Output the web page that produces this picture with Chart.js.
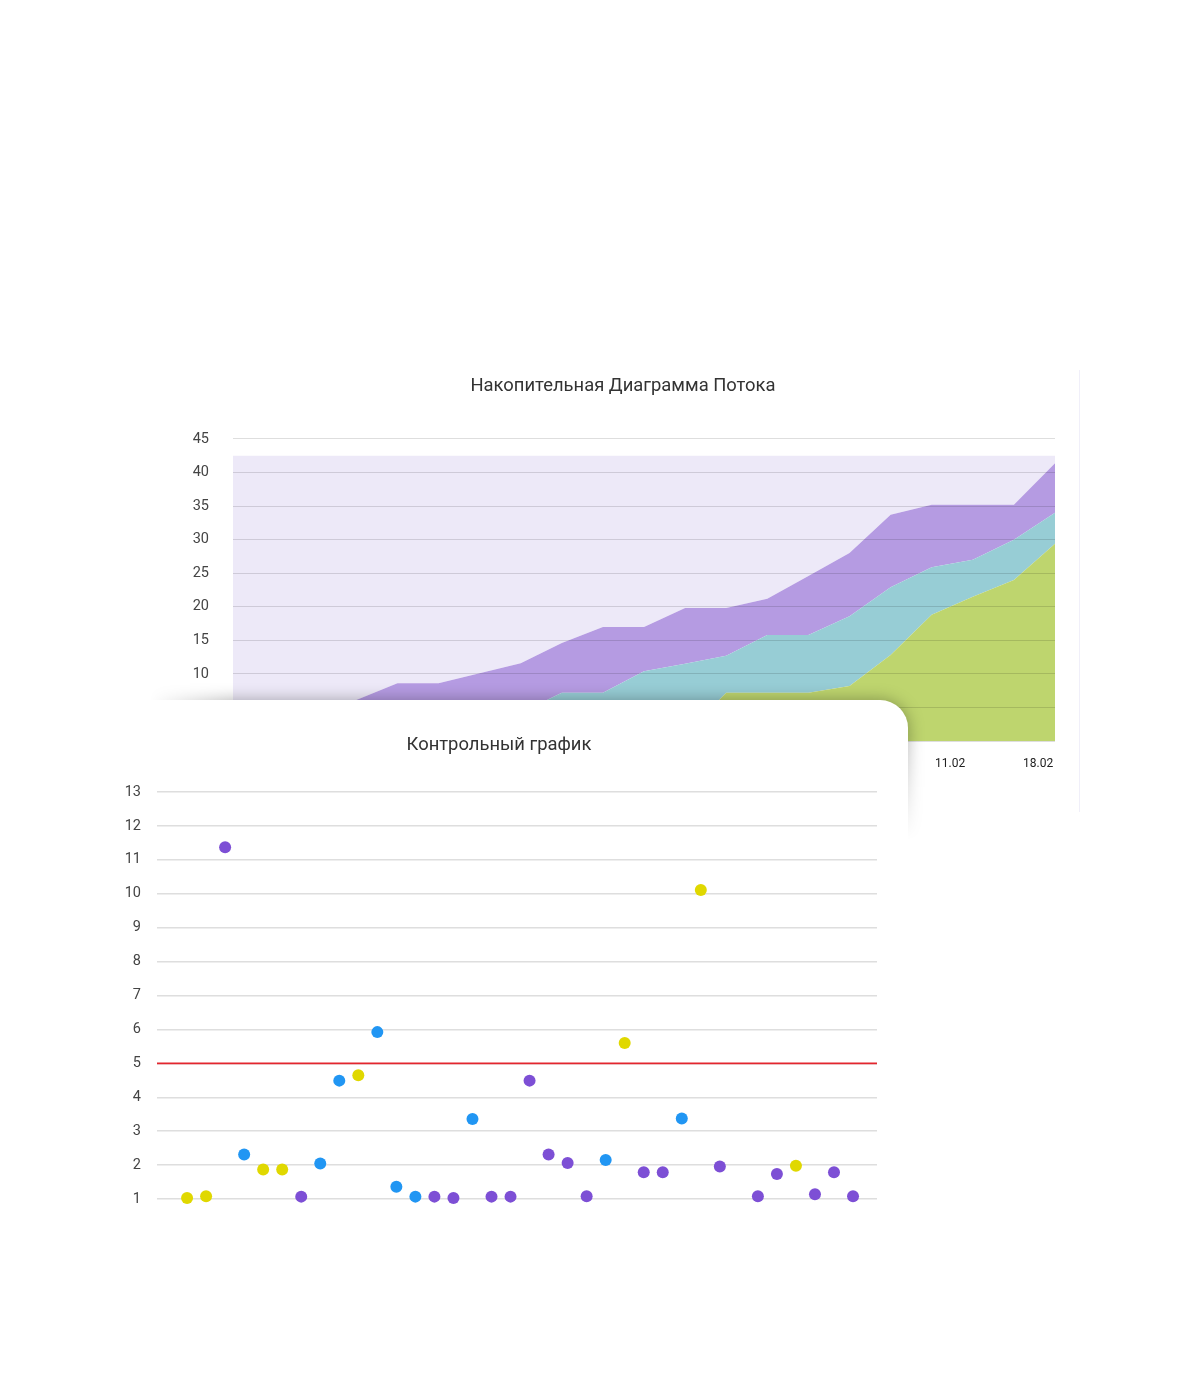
<!DOCTYPE html>
<html lang="ru">
<head>
<meta charset="utf-8">
<title>Накопительная Диаграмма Потока / Контрольный график</title>
<script src="https://cdn.jsdelivr.net/npm/chart.js@4.4.1/dist/chart.umd.min.js"></script>
<style>
  html, body {
    margin: 0;
    padding: 0;
    background: #fff;
  }
  body {
    position: relative;
    width: 1184px;
    height: 1400px;
    overflow: hidden;
    font-family: Roboto, "Noto Sans", sans-serif;
  }
  #flowCard {
    position: absolute;
    left: 167px;
    top: 370px;
    width: 912px;
    height: 442px;
  }
  #flowEdge {
    position: absolute;
    left: 1079px;
    top: 370px;
    width: 1px;
    height: 442px;
    background: #f0eff9;
  }
  /* мягкая тень под карточкой контрольного графика */
  #shadowWrap {
    position: absolute;
    left: 60px;
    top: 640px;
    width: 920px;
    height: 320px;
    -webkit-mask-image: linear-gradient(to right, transparent 0, transparent 90px, #000 170px);
    mask-image: linear-gradient(to right, transparent 0, transparent 90px, #000 170px);
  }
  #shadowFade {
    position: relative;
    width: 100%;
    height: 100%;
    -webkit-mask-image: linear-gradient(to bottom, #000 0, #000 95px, transparent 200px);
    mask-image: linear-gradient(to bottom, #000 0, #000 95px, transparent 200px);
  }
  #shadow {
    position: absolute;
    left: 38px;
    top: 60px;
    width: 810px;
    height: 300px;
    border-top-right-radius: 28px;
    background: rgba(0, 0, 0, 0.32);
    filter: blur(8px);
  }
  #controlCard {
    position: absolute;
    left: 98px;
    top: 700px;
    width: 810px;
    height: 700px;
    background: #fff;
    border-top-right-radius: 28px;
  }
  canvas {
    display: block;
  }
</style>
</head>
<body>
<div id="flowCard"><canvas id="flowChart" width="912" height="442"></canvas></div>
<div id="flowEdge"></div>
<div id="shadowWrap"><div id="shadowFade"><div id="shadow"></div></div></div>
<div id="controlCard"><canvas id="controlChart" width="810" height="560"></canvas></div>

<script>
"use strict";

// Накопительная диаграмма: срезы по состояниям (накопленные значения)
const flowDone = [0, 0, 0, 0, 0, 0, 0, 0, 0, 0, 0, 1, 7.2, 7.2, 7.2, 8.2, 12.8, 18.8, 21.5, 24.0, 29.4];
const flowTesting = [0, 0, 0, 0.5, 1, 1.5, 2.5, 4.2, 7.2, 7.2, 10.4, 11.5, 12.7, 15.8, 15.8, 18.6, 22.9, 25.9, 27.0, 30.0, 34.0];
const flowInWork = [0, 1, 3, 6.1, 8.6, 8.6, 10.1, 11.6, 14.6, 17.0, 17.0, 19.8, 19.8, 21.2, 24.6, 28.0, 33.7, 35.2, 35.2, 35.2, 41.4];
const flowBacklog = [42.5, 42.5, 42.5, 42.5, 42.5, 42.5, 42.5, 42.5, 42.5, 42.5, 42.5, 42.5, 42.5, 42.5, 42.5, 42.5, 42.5, 42.5, 42.5, 42.5, 42.5];

// подписи недель и их место на оси срезов
const weekLabels = ["17.12", "24.12", "31.12", "07.01", "14.01", "21.01", "28.01", "04.02", "11.02", "18.02"];
const weekTicks = [0.33, 2.47, 4.61, 6.75, 8.89, 11.03, 13.17, 15.31, 17.45, 19.59];

// Контрольный график: время цикла по задачам и их тип
const cycleTimes = [1.03, 1.08, 11.37, 2.31, 1.87, 1.87, 1.07, 2.05, 4.49, 4.65, 5.92, 1.36, 1.07, 1.07, 1.03, 3.36, 1.07, 1.07,
  4.49, 2.31, 2.06, 1.08, 2.15, 5.60, 1.79, 1.79, 3.37, 10.11, 1.96, 13.18, 1.08, 1.74, 1.98, 1.14, 1.79, 1.08];
const itemTypes = ["Y", "Y", "P", "B", "Y", "Y", "P", "B", "B", "Y", "B", "B", "B", "P", "P", "B", "P", "P",
  "P", "P", "P", "P", "B", "Y", "P", "P", "B", "Y", "P", "B", "P", "P", "Y", "P", "P", "P"];
const controlLimit = 5;
const controlTicks = [1, 13];

Chart.defaults.font.family = "Roboto, 'Noto Sans', sans-serif";
Chart.defaults.animation = false;

/**
 * Рисует накопительную диаграмму потока.
 */
function createFlowChart() {
  const ctx = document.getElementById("flowChart");
  const xs = flowDone.map((v, i) => i);
  const toPoints = arr => arr.map((v, i) => ({ x: xs[i], y: v }));
  const area = (data, color, fill) => ({
    data: toPoints(data),
    backgroundColor: color,
    borderWidth: 0,
    pointRadius: 0,
    tension: 0,
    fill: fill
  });

  new Chart(ctx, {
    type: "line",
    data: {
      datasets: [
        area(flowDone, "#bed56e", "origin"),
        area(flowTesting, "#97cdd5", "-1"),
        area(flowInWork, "#b59be2", "-1"),
        area(flowBacklog, "#ede9f8", "-1")
      ]
    },
    options: {
      responsive: false,
      events: [],
      layout: { padding: { left: 24, right: 24, top: 0, bottom: 40.6 } },
      plugins: {
        legend: { display: false },
        tooltip: { enabled: false },
        title: {
          display: true,
          text: "Накопительная Диаграмма Потока",
          color: "#333",
          font: { size: 18.4, weight: "normal" },
          padding: { top: 5.5, bottom: 41.4 }
        }
      },
      scales: {
        x: {
          type: "linear",
          min: 0,
          max: flowDone.length - 1,
          grid: { display: false, drawTicks: false },
          border: { display: false },
          afterFit: scale => { scale.height = 30.4; },
          afterBuildTicks: scale => {
            scale.ticks = weekTicks.map(v => ({ value: v }));
          },
          ticks: {
            padding: 16,
            color: "#222",
            font: { size: 12 },
            maxRotation: 0,
            autoSkip: false,
            callback: (value, index) => weekLabels[index]
          }
        },
        y: {
          min: 0,
          max: 45,
          afterFit: scale => { scale.width = 42; },
          grid: { color: "rgba(0,0,0,0.13)", z: 1, drawTicks: false },
          border: { display: false },
          ticks: { stepSize: 5, padding: 24, color: "#444", font: { size: 14.5 } }
        }
      }
    }
  });
}

/**
 * Рисует контрольный график времени цикла.
 */
function createControlChart() {
  const ctx = document.getElementById("controlChart");
  const colors = { P: "#7d4fd5", B: "#2196f3", Y: "#e0d800" };
  const xMin = -1.58;
  const xMax = 36.26;

  const scatter = type => ({
    type: "scatter",
    data: cycleTimes
      .map((v, i) => ({ x: i, y: v, t: itemTypes[i] }))
      .filter(p => p.t === type),
    backgroundColor: colors[type],
    borderColor: colors[type],
    borderWidth: 0,
    pointRadius: 6,
    clip: false
  });

  new Chart(ctx, {
    type: "scatter",
    data: {
      datasets: [
        {
          type: "line",
          data: [{ x: xMin, y: controlLimit }, { x: xMax, y: controlLimit }],
          borderColor: "#e3262e",
          borderWidth: 1.6,
          pointRadius: 0,
          fill: false
        },
        scatter("P"),
        scatter("B"),
        scatter("Y")
      ]
    },
    options: {
      responsive: false,
      events: [],
      layout: { padding: { left: 23, right: 31, top: 0, bottom: 61 } },
      plugins: {
        legend: { display: false },
        tooltip: { enabled: false },
        title: {
          display: true,
          text: "Контрольный график",
          color: "#333",
          font: { size: 18.4, weight: "normal" },
          padding: { top: 34, bottom: 35.9 }
        }
      },
      scales: {
        x: {
          type: "linear",
          display: false,
          min: xMin,
          max: xMax
        },
        y: {
          min: controlTicks[0],
          max: controlTicks[1],
          afterFit: scale => { scale.width = 36; },
          grid: { color: "#dedede", lineWidth: 1.4, drawTicks: false },
          border: { display: false },
          ticks: { stepSize: 1, padding: 16, color: "#444", font: { size: 14.5 } }
        }
      }
    }
  });
}

function init() {
  createFlowChart();
  createControlChart();
}

init();
</script>
</body>
</html>
